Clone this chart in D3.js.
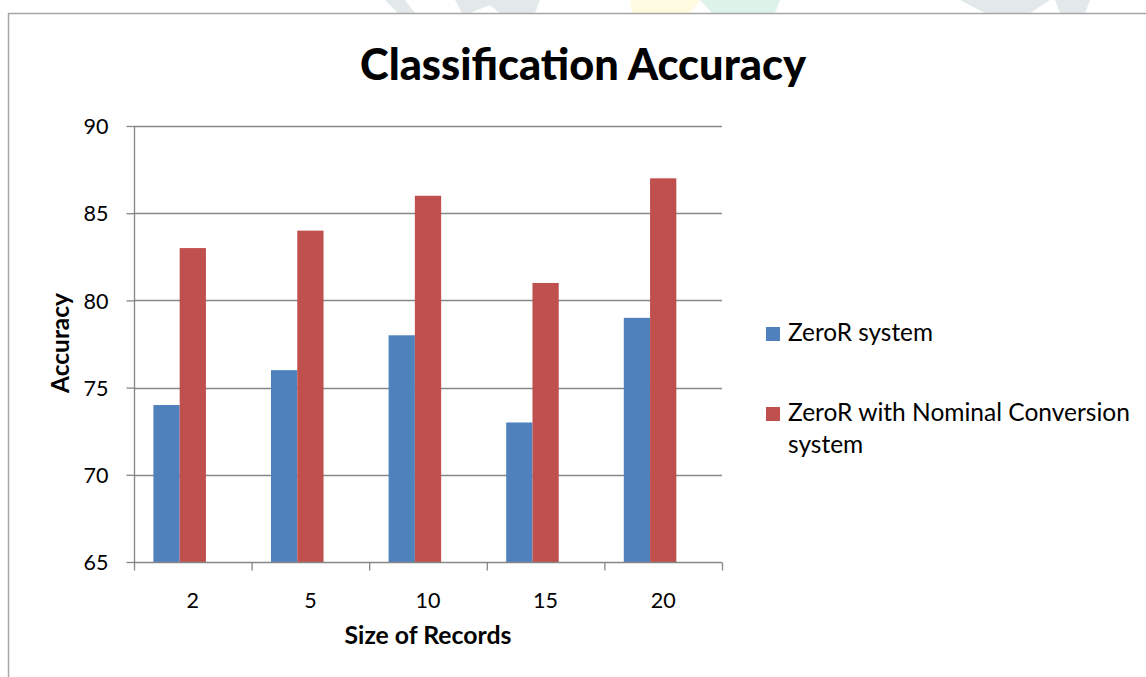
<!DOCTYPE html>
<html><head><meta charset="utf-8">
<script src="https://cdn.jsdelivr.net/npm/d3@7"></script>
<style>html,body{margin:0;padding:0;background:#fff;}svg{display:block;}</style>
</head><body>
<svg id="c" width="1146" height="677"></svg>
<script>
const categories = ["2", "5", "10", "15", "20"];
const zeroR = [74, 76, 78, 73, 79];
const zeroRNominal = [83, 84, 86, 81, 87];
const seriesNames = ["ZeroR system", "ZeroR with Nominal Conversion system"];
const yTicks = [65, 70, 75, 80, 85, 90];
const colors = ["#4F81BD", "#C0504D"];
const FONT = "Lato, 'Open Sans', sans-serif";

const svg = d3.select("#c");
const W = 1146, H = 677;

// faint watermark above the frame
const wm = svg.append("g");
wm.append("path").attr("d","M385,0 L405,0 L415,13 L398,13 Z").attr("fill","#e3e8ea");
wm.append("path").attr("d","M455,0 L540,0 L535,13 L500,13 L490,5 L470,13 L462,13 Z").attr("fill","#e3e8ea");
wm.append("path").attr("d","M630,0 L700,0 L690,13 L632,13 Z").attr("fill","#fffbe0");
wm.append("path").attr("d","M700,0 L780,0 L775,13 L712,13 Z").attr("fill","#ddf2e8");
wm.append("path").attr("d","M960,0 L1050,0 L1030,13 L985,13 Z").attr("fill","#e3e8ea");
wm.append("path").attr("d","M1055,0 L1090,0 L1085,13 L1060,13 Z").attr("fill","#e3e8ea");

// frame
svg.append("line").attr("x1",8).attr("x2",W).attr("y1",13.5).attr("y2",13.5).attr("stroke","#a6a6a6").attr("stroke-width",1.5);
svg.append("line").attr("x1",8.5).attr("x2",8.5).attr("y1",13).attr("y2",H).attr("stroke","#a6a6a6").attr("stroke-width",1.5);

const plot = {l:134, r:722, t:126, b:562};
const x0 = d3.scaleBand().domain(categories).range([plot.l, plot.r]).paddingInner(0.33).paddingOuter(0.165);
const x1 = d3.scaleBand().domain([0,1,2]).range([0, x0.bandwidth()]);
const y = d3.scaleLinear().domain([65, 90]).range([plot.b, plot.t]);

const grid = "#868686";
svg.append("g").selectAll("line").data(yTicks.filter(d=>d>65)).join("line")
  .attr("x1",plot.l).attr("x2",plot.r).attr("y1",d=>Math.round(y(d))+0.5).attr("y2",d=>Math.round(y(d))+0.5)
  .attr("stroke",grid).attr("stroke-width",1.3);

const series = [zeroR, zeroRNominal];
series.forEach((vals, si) => {
  svg.append("g").selectAll("rect").data(vals).join("rect")
    .attr("x",(d,i)=>x0(categories[i]) + x1(si))
    .attr("width",x1.bandwidth())
    .attr("y",d=>y(d)).attr("height",d=>plot.b - y(d))
    .attr("fill",colors[si]);
});

function fit(sel, target){
  const n = sel.node(); const w = n.getComputedTextLength();
  const fs = parseFloat(sel.attr("font-size"));
  sel.attr("font-size", fs*target/w);
  return fs*target/w;
}
// measure tick font size: "90" should be ~25px wide
const probe = svg.append("text").attr("font-family",FONT).attr("font-size",20).text("90");
const tickFS = fit(probe, 25);
probe.remove();

const yAxis = d3.axisLeft(y).tickValues(yTicks).tickSize(8).tickPadding(18);
const gy = svg.append("g").attr("transform",`translate(${plot.l+0.5},0)`).call(yAxis);
gy.select(".domain").attr("stroke",grid).attr("stroke-width",1.3).attr("d",`M0,${plot.t}V${plot.b}`);
gy.selectAll(".tick line").attr("stroke",grid).attr("stroke-width",1.3);
gy.selectAll(".tick text").attr("font-family",FONT).attr("font-size",tickFS).attr("fill","#000").attr("dy","0.36em");

const xAxis = d3.axisBottom(d3.scalePoint().domain(d3.range(categories.length+1)).range([plot.l, plot.r])).tickSize(8).tickFormat("");
const gx = svg.append("g").attr("transform",`translate(0,${plot.b+0.5})`).call(xAxis);
gx.select(".domain").attr("stroke",grid).attr("stroke-width",1.3).attr("d",`M${plot.l},0H${plot.r}`);
gx.selectAll(".tick line").attr("stroke",grid).attr("stroke-width",1.3);
svg.append("g").selectAll("text").data(categories).join("text")
  .attr("x",d=>x0(d)+x0.bandwidth()/2).attr("y",608)
  .attr("text-anchor","middle").attr("font-family",FONT).attr("font-size",tickFS).text(d=>d);

const title = svg.append("text").attr("x",583).attr("y",80).attr("text-anchor","middle")
  .attr("font-family",FONT).attr("font-weight","900").attr("font-size",40).text("Classification Accuracy");
fit(title, 446);

const xt = svg.append("text").attr("x",428).attr("y",644).attr("text-anchor","middle")
  .attr("font-family",FONT).attr("font-weight","bold").attr("font-size",20).text("Size of Records");
fit(xt, 167);
const yt = svg.append("text").attr("transform","translate(69,343) rotate(-90)").attr("text-anchor","middle")
  .attr("font-family",FONT).attr("font-weight","bold").attr("font-size",20).text("Accuracy");
fit(yt, 100);

const leg = svg.append("g");
const legY = [334, 414];
leg.selectAll("rect").data(seriesNames).join("rect")
  .attr("x",766).attr("y",(d,i)=>legY[i]-7).attr("width",14).attr("height",14).attr("fill",(d,i)=>colors[i]);
const l1 = leg.append("text").attr("x",788).attr("y",341).attr("font-family",FONT).attr("font-size",20).text("ZeroR system");
fit(l1, 145);
const l2 = leg.append("text").attr("x",788).attr("y",421).attr("font-family",FONT).attr("font-size",20);
l2.append("tspan").attr("x",788).text("ZeroR with Nominal Conversion");
const fs2 = parseFloat(l2.attr("font-size")) * 342 / l2.select("tspan").node().getComputedTextLength();
l2.attr("font-size", fs2);
l2.append("tspan").attr("x",788).attr("dy",32).text("system");
</script>
</body></html>
